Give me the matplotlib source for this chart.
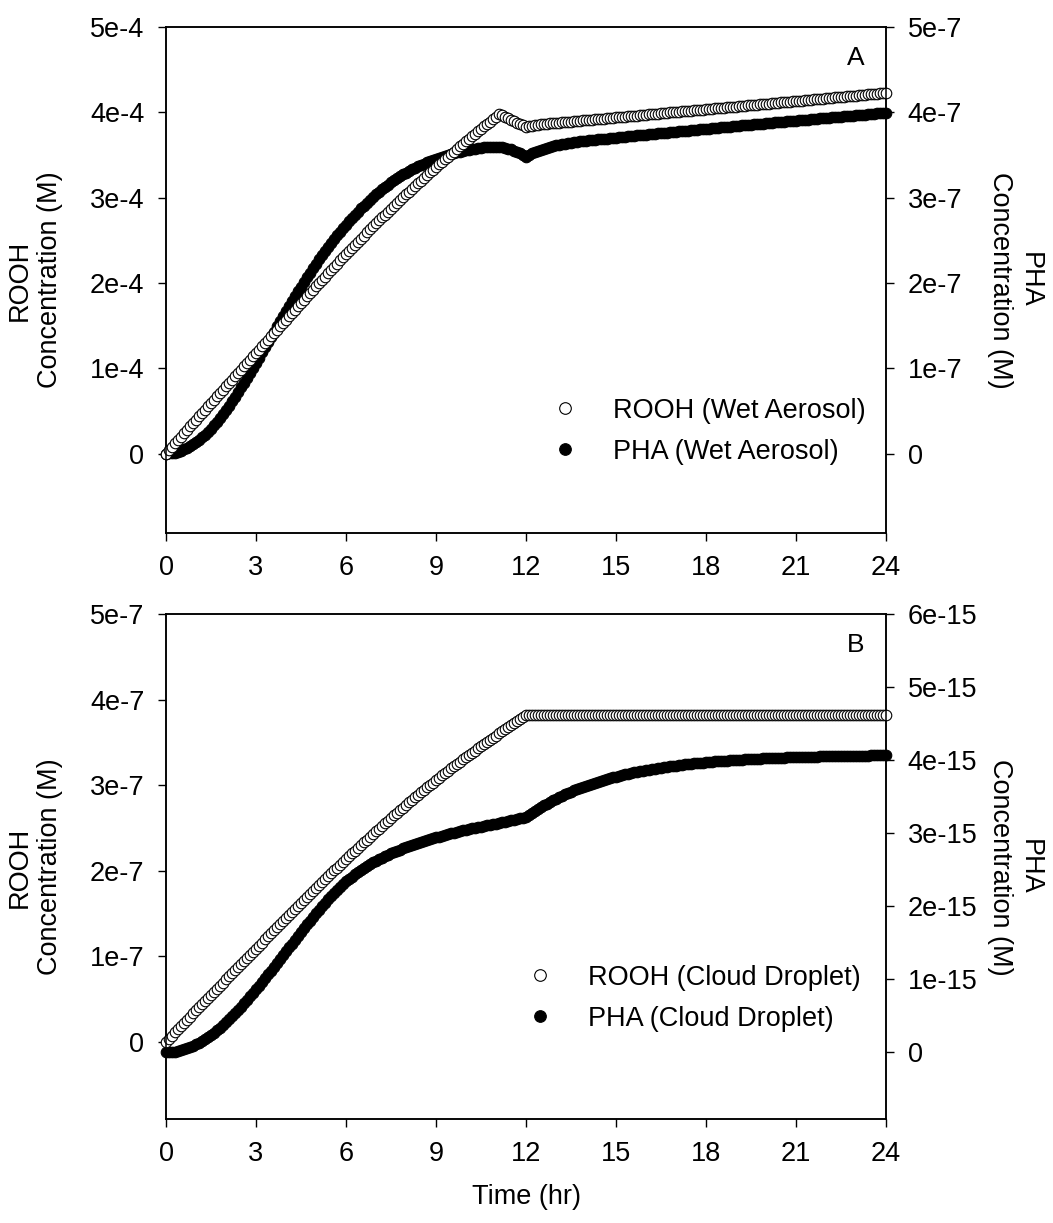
import numpy as np
import matplotlib
matplotlib.use('Agg')
import matplotlib.pyplot as plt

plt.rcParams['font.family'] = ['Liberation Sans', 'DejaVu Sans']

# model output every 0.1 hr, 0-24 hr
time_hr = np.linspace(0, 24, 241)

# Panel A, wet aerosol. ROOH in 1e-4 M, PHA in 1e-7 M
rooh_wet = [
    0.000, 0.040, 0.080, 0.120, 0.160, 0.200, 0.240, 0.280, 0.320, 0.360,
    0.400, 0.439, 0.478, 0.517, 0.556, 0.595, 0.634, 0.673, 0.712, 0.751,
    0.790, 0.829, 0.868, 0.907, 0.946, 0.985, 1.024, 1.063, 1.102, 1.141,
    1.180, 1.219, 1.258, 1.297, 1.336, 1.375, 1.414, 1.453, 1.492, 1.531,
    1.570, 1.609, 1.648, 1.687, 1.726, 1.765, 1.804, 1.843, 1.882, 1.921,
    1.960, 1.998, 2.036, 2.074, 2.112, 2.150, 2.188, 2.226, 2.264, 2.302,
    2.340, 2.376, 2.412, 2.448, 2.484, 2.520, 2.556, 2.592, 2.628, 2.664,
    2.700, 2.734, 2.768, 2.802, 2.836, 2.870, 2.904, 2.938, 2.972, 3.006,
    3.040, 3.072, 3.104, 3.136, 3.168, 3.200, 3.232, 3.264, 3.296, 3.328,
    3.360, 3.390, 3.420, 3.450, 3.480, 3.510, 3.540, 3.570, 3.600, 3.630,
    3.660, 3.689, 3.718, 3.747, 3.776, 3.805, 3.834, 3.863, 3.892, 3.921,
    3.950, 3.980, 3.963, 3.947, 3.930, 3.913, 3.897, 3.880, 3.863, 3.847,
    3.830, 3.838, 3.845, 3.851, 3.856, 3.860, 3.863, 3.866, 3.870, 3.873,
    3.876, 3.879, 3.882, 3.886, 3.889, 3.892, 3.895, 3.898, 3.902, 3.905,
    3.908, 3.911, 3.914, 3.918, 3.921, 3.924, 3.927, 3.930, 3.934, 3.937,
    3.940, 3.943, 3.946, 3.950, 3.953, 3.956, 3.959, 3.962, 3.966, 3.969,
    3.972, 3.975, 3.978, 3.982, 3.985, 3.988, 3.991, 3.994, 3.998, 4.001,
    4.004, 4.007, 4.010, 4.014, 4.017, 4.020, 4.023, 4.026, 4.030, 4.033,
    4.036, 4.039, 4.042, 4.046, 4.049, 4.052, 4.055, 4.058, 4.062, 4.065,
    4.068, 4.071, 4.074, 4.078, 4.081, 4.084, 4.087, 4.090, 4.094, 4.097,
    4.100, 4.103, 4.106, 4.110, 4.113, 4.116, 4.119, 4.122, 4.126, 4.129,
    4.132, 4.135, 4.138, 4.142, 4.145, 4.148, 4.151, 4.154, 4.158, 4.161,
    4.164, 4.167, 4.170, 4.174, 4.177, 4.180, 4.183, 4.186, 4.190, 4.193,
    4.196, 4.199, 4.202, 4.206, 4.209, 4.212, 4.215, 4.218, 4.222, 4.225,
    4.228,
]
pha_wet = [
    0.000, 0.002, 0.006, 0.013, 0.023, 0.036, 0.051, 0.068, 0.088, 0.110,
    0.135, 0.162, 0.191, 0.223, 0.257, 0.294, 0.333, 0.375, 0.419, 0.465,
    0.513, 0.563, 0.614, 0.667, 0.721, 0.776, 0.832, 0.889, 0.947, 1.005,
    1.064, 1.125, 1.186, 1.247, 1.308, 1.369, 1.430, 1.491, 1.552, 1.612,
    1.672, 1.730, 1.788, 1.845, 1.902, 1.958, 2.013, 2.068, 2.122, 2.175,
    2.227, 2.278, 2.328, 2.377, 2.424, 2.470, 2.515, 2.558, 2.600, 2.641,
    2.680, 2.722, 2.762, 2.800, 2.837, 2.873, 2.908, 2.942, 2.975, 3.007,
    3.038, 3.068, 3.097, 3.125, 3.152, 3.178, 3.203, 3.227, 3.250, 3.272,
    3.293, 3.313, 3.332, 3.350, 3.367, 3.383, 3.399, 3.414, 3.428, 3.442,
    3.455, 3.467, 3.479, 3.490, 3.501, 3.511, 3.521, 3.530, 3.539, 3.547,
    3.555, 3.562, 3.569, 3.575, 3.580, 3.585, 3.589, 3.592, 3.594, 3.595,
    3.595, 3.593, 3.589, 3.583, 3.575, 3.565, 3.552, 3.536, 3.518, 3.499,
    3.480, 3.500, 3.518, 3.535, 3.550, 3.563, 3.575, 3.586, 3.596, 3.605,
    3.613, 3.620, 3.627, 3.633, 3.639, 3.645, 3.650, 3.655, 3.660, 3.664,
    3.668, 3.672, 3.675, 3.679, 3.682, 3.686, 3.690, 3.693, 3.697, 3.700,
    3.704, 3.708, 3.711, 3.715, 3.718, 3.722, 3.726, 3.729, 3.733, 3.736,
    3.740, 3.743, 3.747, 3.750, 3.753, 3.757, 3.760, 3.763, 3.766, 3.770,
    3.773, 3.776, 3.780, 3.783, 3.786, 3.790, 3.793, 3.796, 3.799, 3.803,
    3.806, 3.809, 3.813, 3.816, 3.819, 3.823, 3.826, 3.829, 3.832, 3.836,
    3.839, 3.842, 3.846, 3.849, 3.852, 3.856, 3.859, 3.862, 3.865, 3.869,
    3.872, 3.875, 3.878, 3.881, 3.884, 3.888, 3.891, 3.894, 3.897, 3.900,
    3.903, 3.906, 3.909, 3.912, 3.915, 3.919, 3.922, 3.925, 3.928, 3.931,
    3.934, 3.937, 3.940, 3.943, 3.946, 3.950, 3.953, 3.956, 3.959, 3.962,
    3.965, 3.968, 3.971, 3.974, 3.977, 3.981, 3.984, 3.987, 3.990, 3.993,
    3.996,
]

# Panel B, cloud droplet. ROOH in 1e-7 M, PHA in 1e-15 M
rooh_cloud = [
    0.000, 0.037, 0.074, 0.111, 0.148, 0.185, 0.222, 0.259, 0.296, 0.333,
    0.370, 0.406, 0.442, 0.478, 0.514, 0.550, 0.586, 0.622, 0.658, 0.694,
    0.730, 0.766, 0.802, 0.838, 0.874, 0.910, 0.946, 0.982, 1.018, 1.054,
    1.090, 1.126, 1.162, 1.198, 1.234, 1.270, 1.306, 1.342, 1.378, 1.414,
    1.450, 1.485, 1.520, 1.555, 1.590, 1.625, 1.660, 1.695, 1.730, 1.765,
    1.800, 1.834, 1.868, 1.902, 1.936, 1.970, 2.004, 2.038, 2.072, 2.106,
    2.140, 2.172, 2.204, 2.236, 2.268, 2.300, 2.332, 2.364, 2.396, 2.428,
    2.460, 2.491, 2.522, 2.553, 2.584, 2.615, 2.646, 2.677, 2.708, 2.739,
    2.770, 2.799, 2.828, 2.857, 2.886, 2.915, 2.944, 2.973, 3.002, 3.031,
    3.060, 3.087, 3.114, 3.141, 3.168, 3.195, 3.222, 3.249, 3.276, 3.303,
    3.330, 3.355, 3.380, 3.405, 3.430, 3.455, 3.480, 3.505, 3.530, 3.555,
    3.580, 3.604, 3.628, 3.652, 3.676, 3.700, 3.724, 3.748, 3.772, 3.796,
    3.820, 3.825, 3.825, 3.825, 3.825, 3.825, 3.825, 3.825, 3.825, 3.825,
    3.825, 3.825, 3.825, 3.825, 3.825, 3.825, 3.825, 3.825, 3.825, 3.825,
    3.825, 3.825, 3.825, 3.825, 3.825, 3.825, 3.825, 3.825, 3.825, 3.825,
    3.825, 3.825, 3.825, 3.825, 3.825, 3.825, 3.825, 3.825, 3.825, 3.825,
    3.825, 3.825, 3.825, 3.825, 3.825, 3.825, 3.825, 3.825, 3.825, 3.825,
    3.825, 3.825, 3.825, 3.825, 3.825, 3.825, 3.825, 3.825, 3.825, 3.825,
    3.825, 3.825, 3.825, 3.825, 3.825, 3.825, 3.825, 3.825, 3.825, 3.825,
    3.825, 3.825, 3.825, 3.825, 3.825, 3.825, 3.825, 3.825, 3.825, 3.825,
    3.825, 3.825, 3.825, 3.825, 3.825, 3.825, 3.825, 3.825, 3.825, 3.825,
    3.825, 3.825, 3.825, 3.825, 3.825, 3.825, 3.825, 3.825, 3.825, 3.825,
    3.825, 3.825, 3.825, 3.825, 3.825, 3.825, 3.825, 3.825, 3.825, 3.825,
    3.825, 3.825, 3.825, 3.825, 3.825, 3.825, 3.825, 3.825, 3.825, 3.825,
    3.825,
]
pha_cloud = [
    0.000, 0.002, 0.006, 0.012, 0.020, 0.030, 0.042, 0.056, 0.072, 0.090,
    0.110, 0.132, 0.156, 0.182, 0.210, 0.240, 0.272, 0.306, 0.342, 0.380,
    0.419, 0.459, 0.500, 0.542, 0.585, 0.629, 0.674, 0.720, 0.767, 0.815,
    0.864, 0.914, 0.965, 1.016, 1.068, 1.120, 1.173, 1.226, 1.279, 1.332,
    1.385, 1.438, 1.491, 1.544, 1.597, 1.650, 1.702, 1.754, 1.806, 1.857,
    1.907, 1.956, 2.004, 2.051, 2.097, 2.141, 2.184, 2.225, 2.265, 2.303,
    2.340, 2.375, 2.408, 2.440, 2.470, 2.499, 2.526, 2.552, 2.577, 2.601,
    2.624, 2.646, 2.667, 2.687, 2.706, 2.724, 2.742, 2.759, 2.776, 2.792,
    2.808, 2.823, 2.838, 2.852, 2.866, 2.880, 2.893, 2.906, 2.919, 2.931,
    2.943, 2.955, 2.966, 2.977, 2.988, 2.999, 3.009, 3.019, 3.029, 3.039,
    3.048, 3.057, 3.066, 3.075, 3.084, 3.092, 3.100, 3.108, 3.116, 3.124,
    3.132, 3.141, 3.150, 3.159, 3.167, 3.176, 3.185, 3.194, 3.203, 3.212,
    3.220, 3.249, 3.277, 3.305, 3.331, 3.356, 3.381, 3.404, 3.427, 3.449,
    3.471, 3.492, 3.511, 3.531, 3.549, 3.567, 3.585, 3.602, 3.618, 3.633,
    3.649, 3.663, 3.677, 3.691, 3.704, 3.717, 3.729, 3.741, 3.753, 3.764,
    3.774, 3.785, 3.795, 3.805, 3.814, 3.823, 3.832, 3.840, 3.848, 3.856,
    3.864, 3.871, 3.878, 3.885, 3.891, 3.898, 3.904, 3.910, 3.916, 3.921,
    3.927, 3.932, 3.937, 3.942, 3.946, 3.951, 3.955, 3.960, 3.964, 3.968,
    3.971, 3.975, 3.979, 3.982, 3.985, 3.989, 3.992, 3.995, 3.998, 4.000,
    4.003, 4.006, 4.008, 4.011, 4.013, 4.015, 4.017, 4.020, 4.022, 4.024,
    4.026, 4.027, 4.029, 4.031, 4.033, 4.034, 4.036, 4.037, 4.039, 4.040,
    4.041, 4.043, 4.044, 4.045, 4.046, 4.048, 4.049, 4.050, 4.051, 4.052,
    4.053, 4.054, 4.054, 4.055, 4.056, 4.057, 4.058, 4.058, 4.059, 4.060,
    4.061, 4.061, 4.062, 4.063, 4.063, 4.064, 4.064, 4.065, 4.065, 4.066,
    4.066,
]

x_ticks = [0, 3, 6, 9, 12, 15, 18, 21, 24]

FS = 19.5
MS = 7.6
fig = plt.figure(figsize=(10.53, 12.23), dpi=100)


def exp_labels(n, exp):
    return ['0'] + [f'{i}e-{exp}' for i in range(1, n + 1)]


def style_axis(a):
    for s in a.spines.values():
        s.set_linewidth(1.1)
    a.tick_params(direction='out', length=5.5, width=1.0, labelsize=FS, pad=10)


def draw_panel(rect, rooh, pha, rooh_exp, pha_exp, rooh_top, pha_top,
               rooh_bottom, pha_bottom, names, letter, legend_xy):
    ax = fig.add_axes(rect)
    ax2 = ax.twinx()
    ax.set_zorder(ax2.get_zorder() + 1)
    ax.patch.set_visible(False)

    u1 = 10.0 ** (-rooh_exp)
    u2 = 10.0 ** (-pha_exp)
    h2, = ax2.plot(time_hr, np.array(pha) * u2, ls='none', marker='o', ms=MS,
                   mfc='black', mec='black', mew=0.8, clip_on=False)
    h1, = ax.plot(time_hr, np.array(rooh) * u1, ls='none', marker='o', ms=MS,
                  mfc='white', mec='black', mew=0.8, clip_on=False)

    ax.set_xlim(0, 24)
    ax.set_xticks(x_ticks)
    ax.set_ylim(rooh_bottom * u1, rooh_top * u1)
    ax.set_yticks([i * u1 for i in range(rooh_top + 1)])
    ax.set_yticklabels(exp_labels(rooh_top, rooh_exp))
    ax2.set_ylim(pha_bottom * u2, pha_top * u2)
    ax2.set_yticks([i * u2 for i in range(pha_top + 1)])
    ax2.set_yticklabels(exp_labels(pha_top, pha_exp))
    style_axis(ax)
    style_axis(ax2)

    ax.text(0.958, 0.939, letter, transform=ax.transAxes, ha='center',
            va='center', fontsize=19)
    ax.legend([h1, h2], names, loc='upper left', bbox_to_anchor=legend_xy,
              frameon=False, borderpad=0, borderaxespad=0, handlelength=1.0,
              handletextpad=1.3, labelspacing=0.55, fontsize=FS, markerscale=1.1)
    return ax


fig_h = 1223.0
fig_w = 1053.0

# panel A
draw_panel([166 / fig_w, 1 - 533 / fig_h, 720 / fig_w, 506 / fig_h],
           rooh_wet, pha_wet, 4, 7, 5, 5, -0.93, -0.93,
           ['ROOH (Wet Aerosol)', 'PHA (Wet Aerosol)'], 'A', (0.535, 0.267))
fig.text(35 / fig_w, 1 - 280 / fig_h, 'ROOH\nConcentration (M)', rotation=90,
         ha='center', va='center', multialignment='center', fontsize=FS)
fig.text(1015 / fig_w, 1 - 280 / fig_h, 'PHA\nConcentration (M)', rotation=270,
         ha='center', va='center', multialignment='center', fontsize=FS)

# panel B
draw_panel([166 / fig_w, 1 - 1119 / fig_h, 720 / fig_w, 505 / fig_h],
           rooh_cloud, pha_cloud, 7, 15, 5, 6, -0.90, -0.91,
           ['ROOH (Cloud Droplet)', 'PHA (Cloud Droplet)'], 'B', (0.5, 0.305))
fig.text(35 / fig_w, 1 - 867 / fig_h, 'ROOH\nConcentration (M)', rotation=90,
         ha='center', va='center', multialignment='center', fontsize=FS)
fig.text(1015 / fig_w, 1 - 867 / fig_h, 'PHA\nConcentration (M)', rotation=270,
         ha='center', va='center', multialignment='center', fontsize=FS)

fig.text(526 / fig_w, 1 - 1197 / fig_h, 'Time (hr)', ha='center', va='center',
         fontsize=FS)

fig.savefig('out.png', dpi=100)
